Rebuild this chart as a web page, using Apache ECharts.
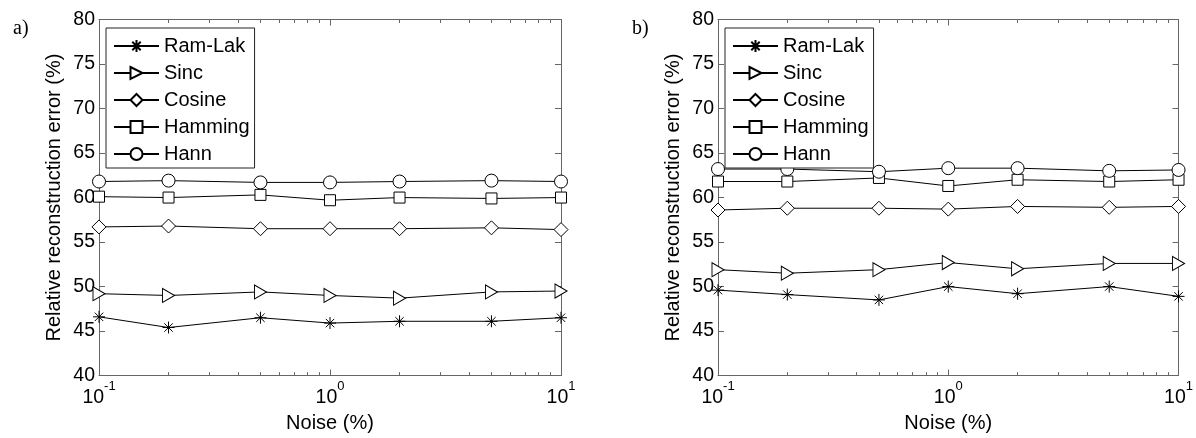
<!DOCTYPE html>
<html>
<head>
<meta charset="utf-8">
<script src="https://cdn.jsdelivr.net/npm/echarts@6/dist/echarts.min.js"></script>
<style>
html,body{margin:0;padding:0;background:#fff;}
#chart{width:1196px;height:438px;}
</style>
</head>
<body>
<div id="chart"></div>
<script>
// ---- data ----
const noise = [0.1, 0.2, 0.5, 1, 2, 5, 10];
const seriesNames = ['Ram-Lak', 'Sinc', 'Cosine', 'Hamming', 'Hann'];
// panel a)
const aRamLak  = [46.6, 45.4, 46.5, 45.9, 46.1, 46.1, 46.5];
const aSinc    = [49.2, 49.0, 49.4, 49.0, 48.7, 49.4, 49.5];
const aCosine  = [56.7, 56.8, 56.5, 56.5, 56.5, 56.6, 56.4];
const aHamming = [60.1, 60.0, 60.3, 59.7, 60.0, 59.9, 60.0];
const aHann    = [61.8, 61.9, 61.7, 61.7, 61.8, 61.9, 61.8];
// panel b)
const bRamLak  = [49.6, 49.1, 48.5, 50.0, 49.2, 50.0, 48.9];
const bSinc    = [51.9, 51.5, 51.9, 52.7, 52.0, 52.6, 52.6];
const bCosine  = [58.6, 58.8, 58.8, 58.7, 59.0, 58.9, 59.0];
const bHamming = [61.8, 61.8, 62.2, 61.3, 62.0, 61.8, 62.0];
const bHann    = [63.2, 63.2, 62.9, 63.3, 63.3, 63.0, 63.1];
// axis ticks
const yMin = 40, yMax = 80, yStep = 5;
const xMin = 0.1, xMax = 10;
const minorTickValues = [0.2,0.3,0.4,0.5,0.6,0.7,0.8,0.9,2,3,4,5,6,7,8,9];
const panelLabels = ['a)', 'b)'];
const yTitle = 'Relative reconstruction error (%)';
const xTitle = 'Noise (%)';

// ---- styles ----
const FONT = '"Liberation Sans", Arial, Helvetica, sans-serif';
const AX = '#666666';
const symbols = {
  'Ram-Lak': 'path://M5,0 L5,10 M0,5 L10,5 M1.5,1.5 L8.5,8.5 M8.5,1.5 L1.5,8.5',
  'Sinc': 'path://M0,0 L10,6 L0,12 Z',
  'Cosine': 'diamond',
  'Hamming': 'rect',
  'Hann': 'circle'
};
const symbolSizes = { 'Ram-Lak': 12, 'Sinc': [12, 14], 'Cosine': 14, 'Hamming': 11, 'Hann': 13 };
const panelData = [
  [aRamLak, aSinc, aCosine, aHamming, aHann],
  [bRamLak, bSinc, bCosine, bHamming, bHann]
];
const grids = [
  { left: 99, top: 19.5, width: 462, height: 363 },
  { left: 718, top: 19.5, width: 463, height: 363 }
];

const xAxes = [], yAxes = [], series = [], legends = [], titles = [];
grids.forEach((g, gi) => {
  const base = xAxes.length;
  xAxes.push({
    gridIndex: gi, type: 'log', logBase: 10, min: xMin, max: xMax, position: 'bottom',
    axisLine: { show: true, onZero: false, lineStyle: { color: AX, width: 1 } },
    axisTick: { show: true, inside: true, length: 6, lineStyle: { color: AX } },
    splitLine: { show: false },
    axisLabel: {
      show: true, margin: 4.5, color: '#000', fontFamily: FONT,
      formatter: v => '{b|10}{s|' + Math.round(Math.log10(v)) + '}',
      rich: {
        b: { fontSize: 19.5, lineHeight: 20, padding: [8, 0, 0, 0], verticalAlign: 'top', fontFamily: FONT, color: '#000' },
        s: { fontSize: 13, lineHeight: 13, verticalAlign: 'top', fontFamily: FONT, color: '#000' }
      }
    },
    name: xTitle, nameLocation: 'middle', nameGap: 37,
    nameTextStyle: { fontSize: 20, color: '#000', fontFamily: FONT }
  });
  xAxes.push({
    gridIndex: gi, type: 'log', logBase: 10, min: xMin, max: xMax, position: 'top',
    axisLine: { show: true, onZero: false, lineStyle: { color: AX, width: 1 } },
    axisTick: { show: true, inside: true, length: 6, lineStyle: { color: AX } },
    axisLabel: { show: false }, splitLine: { show: false }
  });
  ['bottom', 'top'].forEach(pos => {
    xAxes.push({
      gridIndex: gi, type: 'value', min: -1, max: 1, position: pos,
      axisLine: { show: false, onZero: false },
      axisTick: { show: true, inside: true, length: 3.5, lineStyle: { color: AX },
        customValues: minorTickValues.map(v => Math.log10(v)) },
      axisLabel: { show: false }, splitLine: { show: false }
    });
  });
  const ybase = yAxes.length;
  yAxes.push({
    gridIndex: gi, type: 'value', min: yMin, max: yMax, interval: yStep, position: 'left',
    axisLine: { show: true, onZero: false, lineStyle: { color: AX, width: 1 } },
    axisTick: { show: true, inside: true, length: 6, lineStyle: { color: AX } },
    splitLine: { show: false },
    axisLabel: { margin: 4, fontSize: 19.5, color: '#000', fontFamily: FONT },
    name: yTitle, nameLocation: 'middle', nameGap: 35, nameRotate: 90,
    nameTextStyle: { fontSize: 20, color: '#000', fontFamily: FONT }
  });
  yAxes.push({
    gridIndex: gi, type: 'value', min: yMin, max: yMax, interval: yStep, position: 'right',
    axisLine: { show: true, onZero: false, lineStyle: { color: AX, width: 1 } },
    axisTick: { show: true, inside: true, length: 6, lineStyle: { color: AX } },
    splitLine: { show: false }, axisLabel: { show: false }
  });
  seriesNames.forEach((name, si) => {
    series.push({
      name: name, type: 'line', xAxisIndex: base, yAxisIndex: ybase,
      data: noise.map((x, i) => [x, panelData[gi][si][i]]),
      symbol: symbols[name], symbolSize: symbolSizes[name], showAllSymbol: true,
      clip: false,
      lineStyle: { color: '#000', width: 1 },
      itemStyle: { color: '#fff', borderColor: '#000', borderWidth: 1 },
      emphasis: { disabled: true }, z: 3
    });
  });
  legends.push({
    left: g.left + 7, top: 28, orient: 'vertical',
    data: seriesNames, itemWidth: 45, itemHeight: 15, itemGap: 7,
    padding: [8, 5, 4, 7], borderColor: '#222', borderWidth: 1, backgroundColor: '#fff',
    textStyle: { fontSize: 20, color: '#000', fontFamily: FONT, lineHeight: 20 },
    selectedMode: false
  });
  titles.push({
    text: panelLabels[gi], left: gi === 0 ? 8 : 627, top: 14,
    textStyle: { fontFamily: '"Liberation Serif", "Times New Roman", serif', fontSize: 20, fontWeight: 'normal', color: '#000' }
  });
});

const chart = echarts.init(document.getElementById('chart'), null, { renderer: 'canvas' });
chart.setOption({
  animation: false,
  backgroundColor: '#fff',
  title: titles,
  grid: grids,
  xAxis: xAxes,
  yAxis: yAxes,
  legend: legends,
  series: series
});
</script>
</body>
</html>
